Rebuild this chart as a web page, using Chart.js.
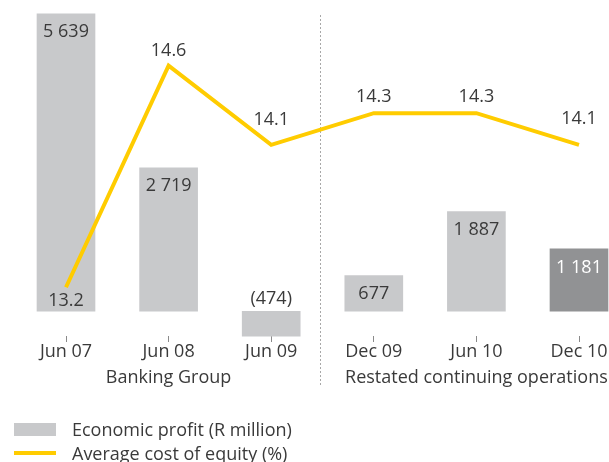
<!DOCTYPE html>
<html>
<head>
<meta charset="utf-8">
<script src="https://cdn.jsdelivr.net/npm/chart.js@4.4.0/dist/chart.umd.min.js"></script>
<style>
  html, body { margin: 0; padding: 0; background: #fff; overflow: hidden; }
  #wrap { position: relative; width: 609px; height: 462px; }
  #legend { position: absolute; left: 14px; top: 417px; font-family: "Open Sans", sans-serif; font-size: 18px; color: #3a3a3a; }
  .item { display: flex; align-items: center; height: 24px; line-height: 24px; white-space: nowrap; }
  .sw { width: 42px; margin-right: 16px; }
</style>
</head>
<body>
<div id="wrap">
  <canvas id="epChart" width="609" height="462"></canvas>
  <div id="legend"></div>
</div>
<script>
// data
var categories = ['Jun 07', 'Jun 08', 'Jun 09', 'Dec 09', 'Jun 10', 'Dec 10'];
var economicProfit = [5639, 2719, -474, 677, 1887, 1181];
var costOfEquity = [13.2, 14.6, 14.1, 14.3, 14.3, 14.1];
var groupNames = ['Banking Group', 'Restated continuing operations'];
var groupFirst = [0, 3];
var groupLast = [2, 5];

var lightGrey = '#c8c9cb';
var darkGrey = '#919294';
var yellow = '#ffcc00';
var textColor = '#3a3a3a';
var fontFamily = '"Open Sans", sans-serif';

// how far the % labels sit above (+) or below (-) their point
var lineLabelLift = [-14, 15, 25, 16, 16, 26];

function fmt(v) {
    var s = Math.abs(v).toString().replace(/\B(?=(\d{3})+(?!\d))/g, ' ');
    return v < 0 ? '(' + s + ')' : s;
}

function groupLabelAt(i) {
    for (var g = 0; g < groupNames.length; g++) {
        if (Math.floor((groupFirst[g] + groupLast[g]) / 2) === i)
            return groupNames[g];
    }
    return '';
}

var barColors = economicProfit.map(function(v, i) {
    return i === economicProfit.length - 1 ? darkGrey : lightGrey;
});

var separatorPlugin = {
    id: 'separator',
    beforeDatasetsDraw: function(chart) {
        var ctx = chart.ctx;
        var xs = chart.scales.x;
        for (var g = 1; g < groupFirst.length; g++) {
            var x = Math.round((xs.getPixelForValue(groupFirst[g] - 1) + xs.getPixelForValue(groupFirst[g])) / 2) - 2.5;
            ctx.save();
            ctx.strokeStyle = '#a8a8a8';
            ctx.lineWidth = 1;
            ctx.setLineDash([2, 2]);
            ctx.beginPath();
            ctx.moveTo(x, chart.chartArea.top + 15);
            ctx.lineTo(x, chart.chartArea.bottom + 50);
            ctx.stroke();
            ctx.restore();
        }
    }
};

var labelPlugin = {
    id: 'valueLabels',
    afterDatasetsDraw: function(chart) {
        var ctx = chart.ctx;
        ctx.save();
        ctx.font = '18px ' + fontFamily;
        ctx.textAlign = 'center';
        ctx.textBaseline = 'middle';
        chart.getDatasetMeta(0).data.forEach(function(bar, i) {
            var v = economicProfit[i];
            if (v < 0) {
                ctx.fillStyle = textColor;
                ctx.fillText(fmt(v), bar.x, bar.base - 12);
            } else {
                ctx.fillStyle = barColors[i] === darkGrey ? '#ffffff' : textColor;
                ctx.fillText(fmt(v), bar.x, bar.y + 18.5);
            }
        });
        ctx.fillStyle = textColor;
        chart.getDatasetMeta(1).data.forEach(function(pt, i) {
            ctx.fillText(costOfEquity[i].toFixed(1), pt.x, pt.y - lineLabelLift[i]);
        });
        ctx.restore();
    }
};

var ctx = document.getElementById('epChart');
var chart = new Chart(ctx, {
    type: 'bar',
    data: {
        labels: categories,
        datasets: [{
            type: 'bar',
            label: 'Economic profit (R million)',
            data: economicProfit,
            backgroundColor: barColors,
            borderWidth: 0,
            barThickness: 58,
            yAxisID: 'y',
            order: 2,
            clip: false
        }, {
            type: 'line',
            label: 'Average cost of equity (%)',
            data: costOfEquity,
            borderColor: yellow,
            backgroundColor: yellow,
            borderWidth: 4,
            tension: 0,
            pointRadius: 0,
            pointHoverRadius: 0,
            fill: false,
            yAxisID: 'y1',
            order: 1,
            clip: false
        }]
    },
    options: {
        responsive: false,
        animation: false,
        devicePixelRatio: 1,
        layout: {
            padding: { left: 66, right: 30, top: 0, bottom: 70 }
        },
        plugins: {
            legend: { display: false },
            tooltip: { enabled: false }
        },
        scales: {
            x: {
                offset: false,
                border: { display: false },
                grid: {
                    display: true,
                    offset: false,
                    drawOnChartArea: false,
                    drawTicks: true,
                    tickLength: 6,
                    color: '#8a8a8a'
                },
                ticks: {
                    autoSkip: false,
                    maxRotation: 0,
                    minRotation: 0,
                    padding: -3,
                    color: textColor,
                    font: { family: fontFamily, size: 18, lineHeight: '26px' },
                    callback: function(value, index) {
                        return [categories[index], groupLabelAt(index)];
                    }
                },
                afterFit: function(scale) {
                    scale.height = 56;
                }
            },
            y: {
                display: false,
                min: -470,
                max: 5900
            },
            y1: {
                display: false,
                position: 'right',
                min: 12.892,
                max: 15.015
            }
        }
    },
    plugins: [separatorPlugin, labelPlugin]
});

// legend as html, built from the datasets
var legendEl = document.getElementById('legend');
chart.data.datasets.forEach(function(ds) {
    var row = document.createElement('div');
    row.className = 'item';
    var sw = document.createElement('span');
    sw.className = 'sw';
    if (ds.type === 'bar') {
        sw.style.height = '13px';
        sw.style.background = lightGrey;
    } else {
        sw.style.height = '4px';
        sw.style.background = ds.borderColor;
    }
    row.appendChild(sw);
    var txt = document.createElement('span');
    txt.textContent = ds.label;
    row.appendChild(txt);
    legendEl.appendChild(row);
});
</script>
</body>
</html>
